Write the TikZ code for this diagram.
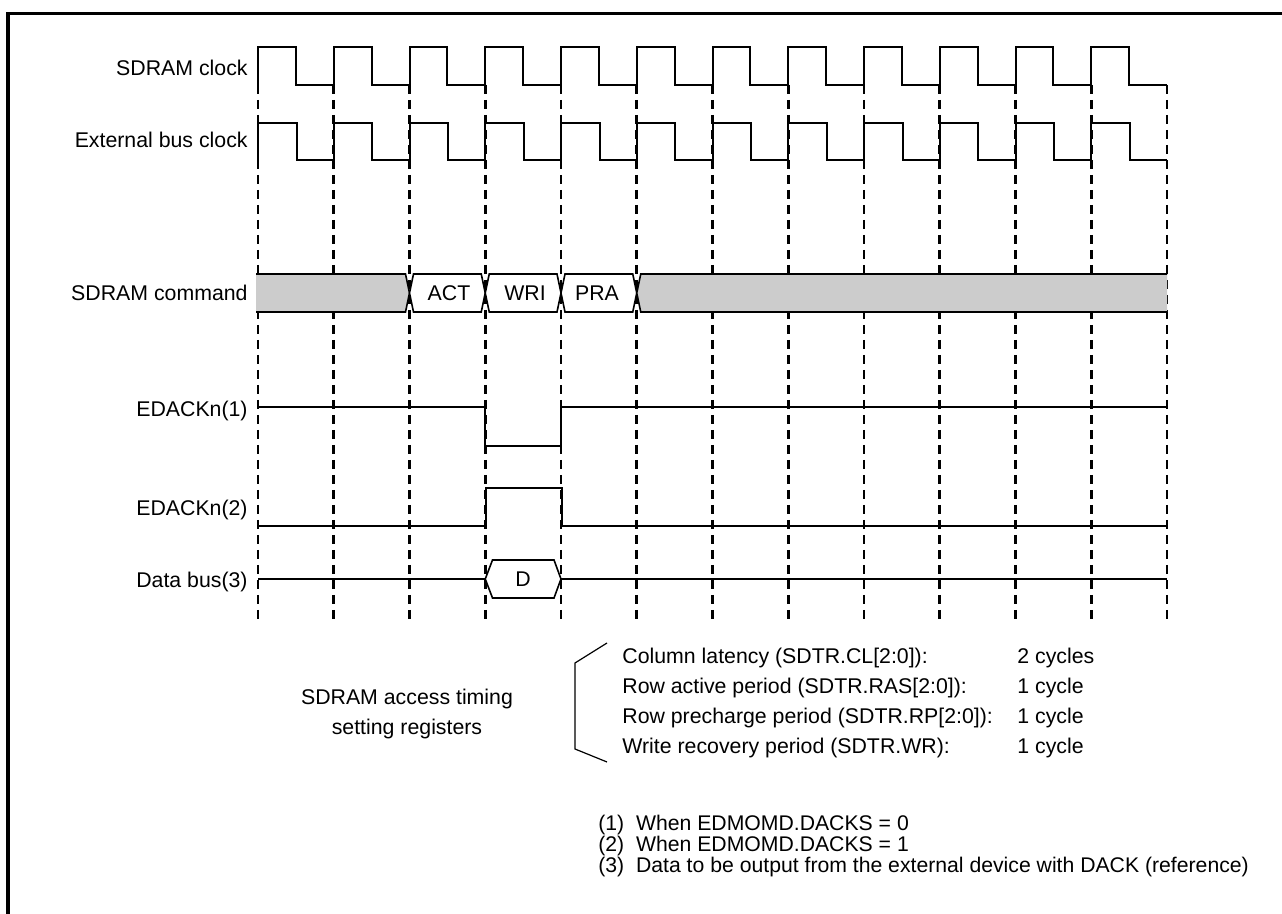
\documentclass[tikz,border=0pt]{standalone}
\usepackage{fontspec}
\setmainfont{Liberation Sans}
\begin{document}
\begin{tikzpicture}[x=0.5pt,y=-0.5pt,
  sig/.style={line width=1pt, line join=miter},
  gridline/.style={line width=1.3pt, dash pattern=on 4.3pt off 3.2pt},
  bus/.style={line width=0.8pt, line join=miter},
  lbl/.style={font=\fontsize{10.65}{12}\selectfont, inner sep=0pt, text height=7.6pt, text depth=0pt},
  note/.style={font=\fontsize{10.6}{11}\selectfont, inner sep=0pt, text height=7.6pt, text depth=0pt, anchor=west},
  busgray/.style={fill=black!20}]
\useasboundingbox (0,0) rectangle (1282,914);
% frame
\draw[line width=1.8pt] (8,930) -- (8,13.5) -- (1300,13.5);
% vertical dashed guide lines
\foreach \k in {0,...,12}
  \draw[gridline] (258+75.75*\k,85) -- (258+75.75*\k,620);
% clocks
\draw[sig] (258,85) \foreach \i in {1,...,12}{ -- ++(0,-38) -- ++(37.875,0) -- ++(0,38) -- ++(37.875,0)};
\draw[sig] (258,160) \foreach \i in {1,...,12}{ -- ++(0,-37) -- ++(38.5,0) -- ++(0,37) -- ++(37.25,0)};
% SDRAM command bus
\fill[busgray] (256,274) -- (405.5,274) -- (409.5,293) -- (405.5,312) -- (256,312) -- cycle;
\draw[bus] (256,274) -- (405.5,274) -- (409.5,293) -- (405.5,312) -- (256,312);
\draw[bus,fill=white] (409.5,293) -- (413.5,274) -- (481.25,274) -- (485.25,293) -- (481.25,312) -- (413.5,312) -- cycle;
\draw[bus,fill=white] (485.25,293) -- (489.25,274) -- (557,274) -- (561,293) -- (557,312) -- (489.25,312) -- cycle;
\draw[bus,fill=white] (561,293) -- (565,274) -- (632.75,274) -- (636.75,293) -- (632.75,312) -- (565,312) -- cycle;
\fill[busgray] (636.75,293) -- (640.75,274) -- (1167,274) -- (1167,312) -- (640.75,312) -- cycle;
\draw[bus] (1167,274) -- (640.75,274) -- (636.75,293) -- (640.75,312) -- (1167,312);
\node[lbl] (act) at (449,293) {ACT};
\node[lbl] (wri) at (525,293) {WRI};
\node[lbl] (pra) at (597,293) {PRA};
% EDACKn(1)
\draw[sig] (258,407) -- (485.25,407) -- (485.25,446) -- (561,446) -- (561,407) -- (1167,407);
% EDACKn(2)
\draw[sig] (258,526) -- (486,526) -- (486,488) -- (562,488) -- (562,526) -- (1167,526);
% Data bus
\draw[sig] (258,579) -- (485.25,579);
\draw[bus,fill=white] (485.25,579) -- (492.5,560) -- (554,560) -- (561,579) -- (554,598) -- (492.5,598) -- cycle;
\draw[sig] (561,579) -- (1167,579);
\node[lbl] (d) at (523,579) {D};
% signal labels
\node[lbl,anchor=east] (lsdclk) at (248,68) {SDRAM clock};
\node[lbl,anchor=east] (lext) at (248,140) {External bus clock};
\node[lbl,anchor=east] (lcmd) at (248,293) {SDRAM command};
\node[lbl,anchor=east] (le1) at (248,409) {EDACKn(1)};
\node[lbl,anchor=east] (le2) at (248,508) {EDACKn(2)};
\node[lbl,anchor=east] (ldb) at (248,580) {Data bus(3)};
% register settings
\node[lbl] (rt1) at (407,697) {SDRAM access timing};
\node[lbl] (rt2) at (407,727) {setting registers};
\draw[line width=0.6pt] (607,643) -- (575,663) -- (575,749) -- (607,762);
\node[lbl,anchor=west] (r1) at (622,656) {Column latency (SDTR.CL[2:0]):};
\node[lbl,anchor=west] (r2) at (622,686) {Row active period (SDTR.RAS[2:0]):};
\node[lbl,anchor=west] (r3) at (622,716) {Row precharge period (SDTR.RP[2:0]):};
\node[lbl,anchor=west] (r4) at (622,746) {Write recovery period (SDTR.WR):};
\node[lbl,anchor=west] (v1) at (1017,656) {2 cycles};
\node[lbl,anchor=west] (v2) at (1017,686) {1 cycle};
\node[lbl,anchor=west] (v3) at (1017,716) {1 cycle};
\node[lbl,anchor=west] (v4) at (1017,746) {1 cycle};
% notes
\node[note] (n1) at (598,823) {(1)\ \ When EDMOMD.DACKS = 0};
\node[note] (n2) at (598,844) {(2)\ \ When EDMOMD.DACKS = 1};
\node[note] (n3) at (598,865) {(3)\ \ Data to be output from the external device with DACK (reference)};
\end{tikzpicture}
\end{document}
